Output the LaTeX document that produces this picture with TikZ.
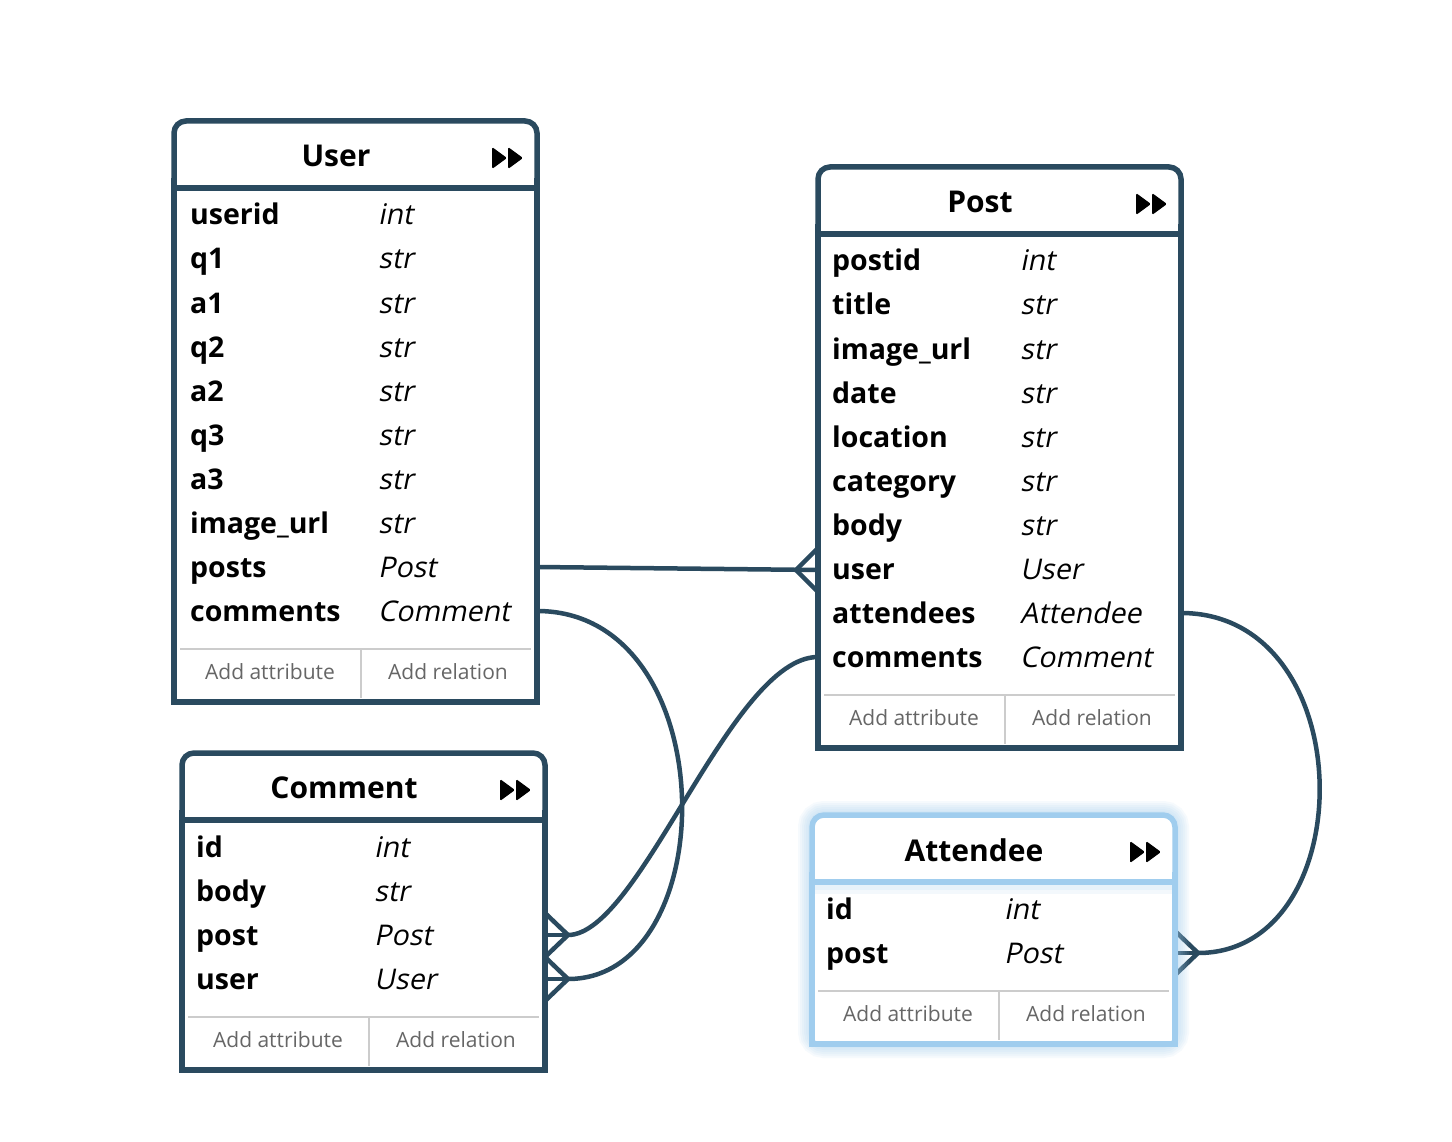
\documentclass[tikz,border=0pt]{standalone}
\usepackage{fontspec}
\setmainfont{Open Sans}
\newfontfamily\slantfont[FakeSlant=0.2]{Open Sans}
\usetikzlibrary{calc}
\definecolor{dark}{HTML}{2A4A5F}
\definecolor{sel}{HTML}{A0CDEE}
\definecolor{footgray}{HTML}{CCCCCC}
\definecolor{foottxt}{HTML}{666666}
\tikzset{
  boxline/.style={line width=5.5, line join=miter},
  footline/.style={draw=footgray, line width=2},
  foottext/.style={font=\fontsize{21}{24}\selectfont, text=foottxt, inner sep=0},
  titletext/.style={font=\fontsize{30}{34}\selectfont\bfseries, inner sep=0},
  attrname/.style={font=\fontsize{28.5}{32}\selectfont\bfseries, inner sep=0, anchor=base west},
  attrtype/.style={font=\fontsize{28.5}{32}\slantfont, inner sep=0, anchor=base west},
  conn/.style={draw=dark, line width=4.5},
}
% #1 id, #2 left, #3 top, #4 rows, #5 colour, #6 title
\newcommand\entity[6]{%
  \pgfmathsetmacro\eL{#2}\pgfmathsetmacro\eT{#3}%
  \pgfmathsetmacro\eR{#2+363}\pgfmathsetmacro\eS{#3+67}%
  \pgfmathsetmacro\eF{#3+88+44*#4}\pgfmathsetmacro\eB{#3+141+44*#4}%
  \fill[white,rounded corners=12] (\eL,\eB) rectangle (\eR,\eT);
  \draw[boxline,draw=#5,rounded corners=12] (\eL,\eS) -- (\eL,\eT) -- (\eR,\eT) -- (\eR,\eS);
  \draw[boxline,draw=#5] (\eL,\eS-10) -- (\eL,\eB) -- (\eR,\eB) -- (\eR,\eS-10);
  \draw[boxline,draw=#5] (\eL,\eS) -- (\eR,\eS);
  \draw[footline] (\eL+6,\eF) -- (\eR-6,\eF);
  \draw[footline] (\eL+187,\eF) -- (\eL+187,\eB-4);
  \node[foottext] (#1-addattr) at (\eL+96,\eF+23) {Add attribute};
  \node[foottext] (#1-addrel) at (\eL+274,\eF+23) {Add relation};
  \node[titletext] (#1-title) at (\eL+162,\eT+35) {#6};
  \fill[black, rounded corners=1.5] (\eR-45,\eT+26) -- (\eR-45,\eT+48) -- (\eR-30,\eT+37) -- cycle;
  \fill[black, rounded corners=1.5] (\eR-29,\eT+26) -- (\eR-29,\eT+48) -- (\eR-14,\eT+37) -- cycle;
}
% #1 id, #2 name x, #3 type x, #4 top, #5 row index, #6 name, #7 type
\newcommand\attrrow[7]{%
  \node[attrname] (#1-r#5-n) at (#2,#4+104+44*#5-44) {#6};
  \node[attrtype] (#1-r#5-t) at (#3,#4+104+44*#5-44) {#7};
}
\newcommand\crowfoot[2]{% #1 port, #2 foot point
  \draw[conn] ($(#1)+(0,-22)$) -- (#2) -- ($(#1)+(0,22)$);
  \draw[conn] (#2) -- (#1);
}
\begin{document}
\begin{tikzpicture}[x=1pt,y=-1pt]
\useasboundingbox[fill=white] (0,0) rectangle (1452,1142);

% ports
\coordinate (user-posts-port) at (537,567);
\coordinate (user-comments-port) at (537,611);
\coordinate (post-user-port) at (818,570);
\coordinate (post-user-foot) at (796,570);
\coordinate (post-comments-port) at (818,657);
\coordinate (post-attendees-port) at (1181,613);
\coordinate (comment-post-port) at (545,935);
\coordinate (comment-post-foot) at (568,935);
\coordinate (comment-user-port) at (545,979);
\coordinate (comment-user-foot) at (568,979);
\coordinate (attendee-post-port) at (1175,953);
\coordinate (attendee-post-foot) at (1198,953);

% connectors
\draw[conn] (user-posts-port) -- (post-user-port);
\crowfoot{post-user-port}{post-user-foot}
\draw[conn] (user-comments-port) .. controls +(188,0) and +(157,0) .. (comment-user-foot);
\crowfoot{comment-user-port}{comment-user-foot}
\draw[conn] (post-comments-port) .. controls +(-87,0) and +(72,0) .. (comment-post-foot);
\crowfoot{comment-post-port}{comment-post-foot}
\draw[conn] (post-attendees-port) .. controls +(182,0) and +(165,0) .. (attendee-post-foot);
\crowfoot{attendee-post-port}{attendee-post-foot}

% User
\entity{user}{174}{121}{10}{dark}{User}
\attrrow{user}{190}{378}{121}{1}{userid}{int}
\attrrow{user}{190}{378}{121}{2}{q1}{str}
\attrrow{user}{190}{378}{121}{3}{a1}{str}
\attrrow{user}{190}{378}{121}{4}{q2}{str}
\attrrow{user}{190}{378}{121}{5}{a2}{str}
\attrrow{user}{190}{378}{121}{6}{q3}{str}
\attrrow{user}{190}{378}{121}{7}{a3}{str}
\attrrow{user}{190}{378}{121}{8}{image\_url}{str}
\attrrow{user}{190}{378}{121}{9}{posts}{Post}
\attrrow{user}{190}{378}{121}{10}{comments}{Comment}

% Post
\entity{post}{818}{167}{10}{dark}{Post}
\attrrow{post}{832}{1020}{167}{1}{postid}{int}
\attrrow{post}{832}{1020}{167}{2}{title}{str}
\attrrow{post}{832}{1020}{167}{3}{image\_url}{str}
\attrrow{post}{832}{1020}{167}{4}{date}{str}
\attrrow{post}{832}{1020}{167}{5}{location}{str}
\attrrow{post}{832}{1020}{167}{6}{category}{str}
\attrrow{post}{832}{1020}{167}{7}{body}{str}
\attrrow{post}{832}{1020}{167}{8}{user}{User}
\attrrow{post}{832}{1020}{167}{9}{attendees}{Attendee}
\attrrow{post}{832}{1020}{167}{10}{comments}{Comment}

% Comment
\entity{comment}{182}{753}{4}{dark}{Comment}
\attrrow{comment}{196}{374}{753}{1}{id}{int}
\attrrow{comment}{196}{374}{753}{2}{body}{str}
\attrrow{comment}{196}{374}{753}{3}{post}{Post}
\attrrow{comment}{196}{374}{753}{4}{user}{User}

% Attendee (selected, with glow)
\foreach \w in {8,12,16,20,24,28}{
  \draw[sel, line width=\w, opacity=0.09, rounded corners=12] (812,1044) rectangle (1175,815);
}
\entity{attendee}{812}{815}{2}{sel}{Attendee}
\fill[sel, opacity=0.25] (815,885) rectangle (1172,890);
\fill[sel, opacity=0.12] (815,890) rectangle (1172,894);
\attrrow{attendee}{826}{1004}{815}{1}{id}{int}
\attrrow{attendee}{826}{1004}{815}{2}{post}{Post}
\end{tikzpicture}
\end{document}
